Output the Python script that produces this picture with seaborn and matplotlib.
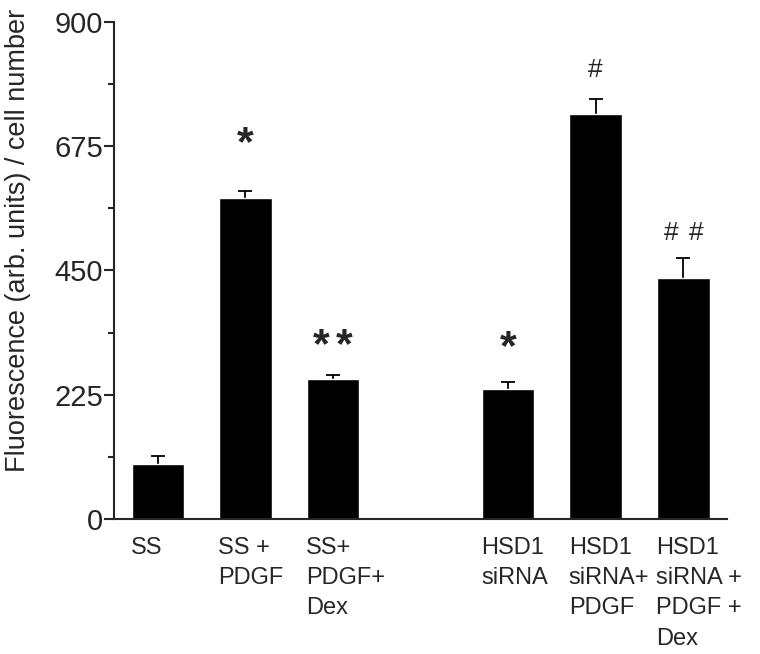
import numpy as np
import pandas as pd
import seaborn as sns
import matplotlib.pyplot as plt
import matplotlib.transforms as mtransforms

# values
groups = ['SS', 'SS +\nPDGF', 'SS+\nPDGF+\nDex', ' ',
          'HSD1\nsiRNA', 'HSD1\nsiRNA+\nPDGF', 'HSD1\nsiRNA +\nPDGF +\nDex']
means = [100, 582, 253, np.nan, 236, 733, 437]
errors = [14, 12, 7, np.nan, 13, 28, 36]
marks = ['', '*', '**', '', '*', '#', '##']
# gap (points) between the error bar and its mark
mark_pad = [0, 19, 7, 0, 10, 12, 9]

sns.set_style('ticks')
plt.rcParams['font.family'] = ['Liberation Sans', 'DejaVu Sans']

df = pd.DataFrame({'group': groups, 'mean': means})

fig = plt.figure(figsize=(7.6, 6.54), dpi=100)
ax = fig.add_axes([0.15, 0.2064, 0.8066, 0.76])

sns.barplot(data=df, x='group', y='mean', order=groups, color='black',
            width=0.6, saturation=1, errorbar=None, ax=ax, zorder=2)

xs = np.arange(len(groups))
ok = ~np.isnan(np.array(means, dtype=float))
ax.errorbar(xs[ok], np.array(means)[ok], yerr=np.array(errors)[ok],
            fmt='none', ecolor='black', elinewidth=1.3, capsize=5,
            capthick=1.3, zorder=1)

# significance marks, one glyph at a time so they can be spread out
for x, m, e, s, pad in zip(xs, means, errors, marks, mark_pad):
    if not s:
        continue
    star = '*' in s
    step = 23 if star else 25
    for i, ch in enumerate(s):
        dx = (i - (len(s) - 1) / 2) * step * 0.72
        ax.annotate(ch, (x, m + e), xytext=(dx, pad), textcoords='offset points',
                    ha='center', va='bottom',
                    fontsize=31 if star else 19,
                    fontweight='bold' if star else 'normal')

ax.set_xlim(-0.5, 6.5)
ax.set_ylim(0, 900)
ax.set_yticks([0, 225, 450, 675, 900])
ax.set_yticks([112.5, 337.5, 562.5, 787.5], minor=True)
ax.tick_params(axis='y', which='major', length=7, width=1.5, labelsize=21, pad=1)
ax.tick_params(axis='y', which='minor', length=4, width=1.5)
ax.tick_params(axis='x', length=0, labelsize=17, pad=13)

ax.set_xlabel('')
ax.set_ylabel('')
fig.text(0.024, 0.632, 'Fluorescence (arb. units) / cell number', rotation=90,
         ha='center', va='center', fontsize=19.5)

shift = mtransforms.ScaledTranslation(-27 / 100, 0, fig.dpi_scale_trans)
for lab in ax.get_xticklabels():
    lab.set_horizontalalignment('left')
    lab.set_verticalalignment('top')
    lab.set_linespacing(1.48)
    lab.set_transform(lab.get_transform() + shift)

for side in ['top', 'right']:
    ax.spines[side].set_visible(False)
ax.spines['left'].set_linewidth(1.5)
ax.spines['bottom'].set_linewidth(1.5)

fig.savefig('out.png', dpi=100)
